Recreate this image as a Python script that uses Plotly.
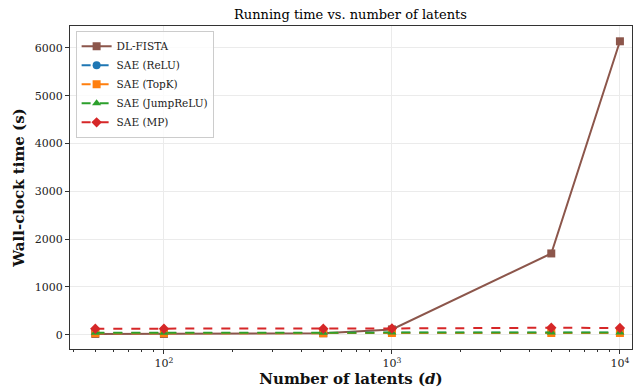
import plotly.graph_objects as go

latents = [50, 100, 500, 1000, 5000, 10000]
dl_fista = [15, 15, 30, 110, 1700, 6140]
sae_relu = [35, 35, 35, 40, 40, 40]
sae_topk = [30, 30, 30, 35, 35, 35]
sae_jump = [40, 40, 40, 45, 45, 45]
sae_mp = [125, 125, 125, 130, 145, 140]

series = [
    ("DL-FISTA", dl_fista, "#8c564b", "square", "solid"),
    ("SAE (ReLU)", sae_relu, "#1f77b4", "circle", "dash"),
    ("SAE (TopK)", sae_topk, "#ff7f0e", "square", "dash"),
    ("SAE (JumpReLU)", sae_jump, "#2ca02c", "triangle-up", "dash"),
    ("SAE (MP)", sae_mp, "#d62728", "diamond", "dash"),
]

fig = go.Figure()
for name, vals, color, sym, dash in series:
    fig.add_trace(go.Scatter(
        x=latents, y=vals, name=name, mode="lines+markers",
        line=dict(color=color, width=2, dash=dash),
        marker=dict(color=color, symbol=sym, size=8),
    ))

font = "DejaVu Serif"
minor_vals = [v * m for m in (10, 100, 1000) for v in range(2, 10)] + [40]
fig.update_layout(
    width=635, height=391,
    margin=dict(l=70, r=3, t=26, b=42),
    paper_bgcolor="white", plot_bgcolor="white",
    font=dict(family=font, color="#222", size=11),
    title=dict(text="Running time vs. number of latents", x=0.552, xanchor="center",
               y=0.975, yanchor="top", font=dict(size=13, family=font, color="black")),
    legend=dict(x=0.01, y=0.985, xanchor="left", yanchor="top",
                bordercolor="#cccccc", borderwidth=1, bgcolor="rgba(255,255,255,0.8)",
                font=dict(size=10.5, family=font, color="#222"),
                tracegroupgap=0, itemwidth=30),
    showlegend=True,
)
fig.update_xaxes(
    type="log", range=[1.588, 4.053],
    tickvals=[100, 1000, 10000],
    ticktext=["10<sup>2</sup>", "10<sup>3</sup>", "10<sup>4</sup>"],
    ticks="outside", ticklen=4, tickcolor="#333",
    minor=dict(tickvals=minor_vals, ticks="outside", ticklen=2, tickcolor="#333", showgrid=False),
    showgrid=True, gridcolor="#ebebeb", gridwidth=1,
    showline=True, linecolor="#333", linewidth=1.2, mirror=True,
    zeroline=False,
    title=dict(text="<b>Number of latents (<i>d</i>)</b>", font=dict(size=15, family=font, color="#111"), standoff=4),
)
fig.update_yaxes(
    range=[-300, 6460],
    tickvals=[0, 1000, 2000, 3000, 4000, 5000, 6000],
    ticks="outside", ticklen=4, tickcolor="#333",
    showgrid=True, gridcolor="#ebebeb", gridwidth=1,
    showline=True, linecolor="#333", linewidth=1.2, mirror=True,
    zeroline=False,
    title=dict(text="<b>Wall-clock time (s)</b>", font=dict(size=15, family=font, color="#111"), standoff=6),
)
fig.write_html("out.html")
